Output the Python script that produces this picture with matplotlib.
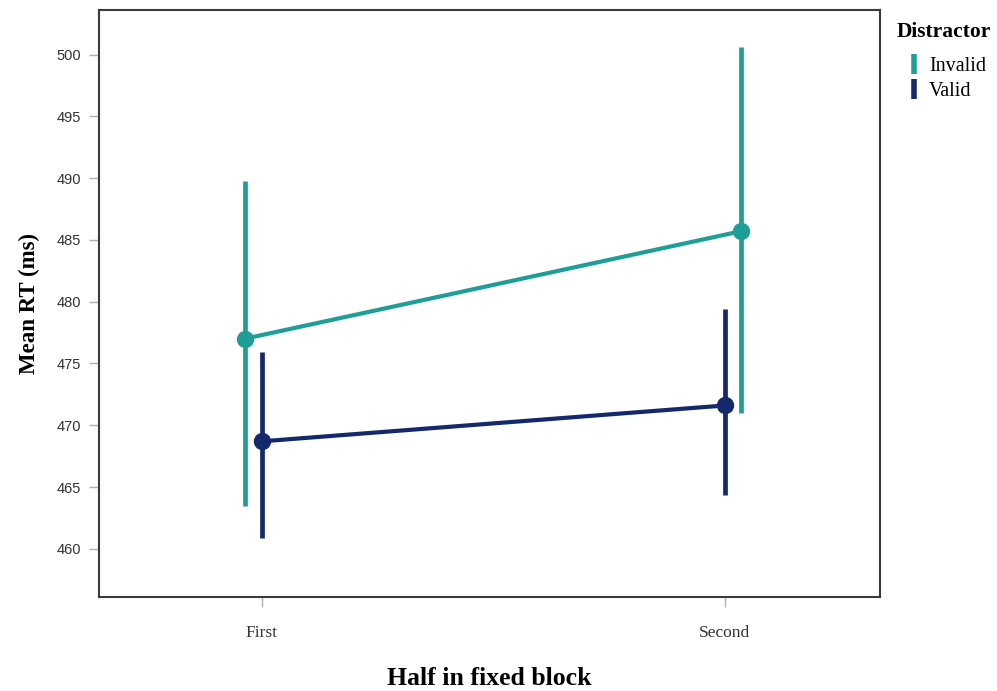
import matplotlib.pyplot as plt
from matplotlib.lines import Line2D

# Mean RT per half of the fixed block, split by distractor validity
halves = ["First", "Second"]
groups = ["Invalid", "Valid"]
invalid_mean = [477.0, 485.7]
invalid_lo = [463.5, 471.0]
invalid_hi = [489.8, 500.6]
valid_mean = [468.7, 471.6]
valid_lo = [460.9, 464.35]
valid_hi = [475.95, 479.4]

COLORS = {"Invalid": "#1f9e97", "Valid": "#14296b"}
DODGE = {"Invalid": [-0.037, 0.035], "Valid": [0.0, 0.0]}

fig = plt.figure(figsize=(9.97, 6.91), dpi=100)
ax = fig.add_axes([0.0993, 0.136, 0.7833, 0.8495])

series = {
    "Invalid": (invalid_mean, invalid_lo, invalid_hi),
    "Valid": (valid_mean, valid_lo, valid_hi),
}
for name in groups:
    mean, lo, hi = series[name]
    xs = [i + d for i, d in enumerate(DODGE[name])]
    c = COLORS[name]
    ax.vlines(xs, lo, hi, color=c, linewidth=3.4, zorder=2)
    ax.plot(xs, mean, color=c, linewidth=3.0, marker="o", markersize=11.5,
            solid_capstyle="butt", zorder=3)

ax.set_xlim(-0.352, 1.335)
ax.set_ylim(456.1, 503.6)
ax.set_xticks(range(len(halves)))
ax.set_xticklabels(halves, family="Liberation Serif", fontsize=12.5)
ax.set_yticks(range(460, 501, 5))
for lab in ax.get_yticklabels():
    lab.set_family("Liberation Sans")
    lab.set_fontsize(10.5)

ax.tick_params(axis="both", direction="out", length=7, width=1,
               color="#b0b0b0", labelcolor="#333333")
ax.tick_params(axis="x", pad=13)
ax.tick_params(axis="y", pad=6)
for side in ["left", "bottom", "top", "right"]:
    ax.spines[side].set_color("#3a3a3a")
    ax.spines[side].set_linewidth(1.5)

ax.set_xlabel("Half in fixed block", family="Liberation Serif",
              fontweight="bold", fontsize=18.5, labelpad=19)
ax.set_ylabel("Mean RT (ms)", family="Liberation Serif",
              fontweight="bold", fontsize=16.5, labelpad=12)

# legend: title drawn separately so the gap above the entries can be set
fig.text(0.8997, 0.954, "Distractor", family="Liberation Serif",
         fontweight="bold", fontsize=15.5, ha="left", va="center")
handles = [Line2D([], [], color=COLORS[g], marker="|", linestyle="None",
                  markersize=15, markeredgewidth=4) for g in groups]
leg = fig.legend(handles, groups, loc="upper left", numpoints=1,
                 bbox_to_anchor=(0.9027, 0.918), frameon=False,
                 handlelength=1.4, handletextpad=0.05,
                 borderaxespad=0, borderpad=0, labelspacing=0.32,
                 prop={"family": "Liberation Serif", "size": 14.5})

fig.savefig("out.png", dpi=100)
